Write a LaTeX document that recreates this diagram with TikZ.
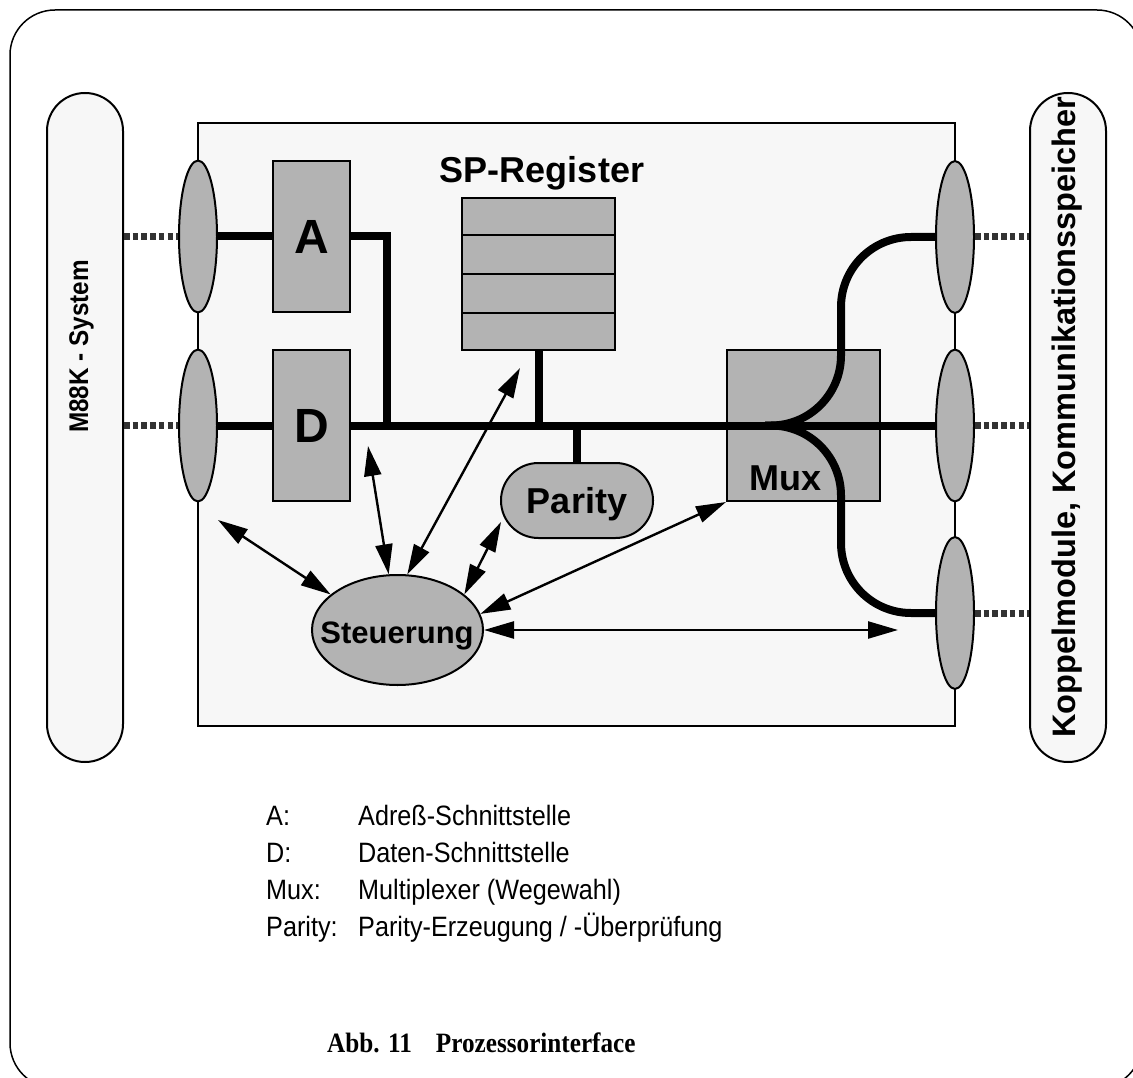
\documentclass[tikz,border=0pt]{standalone}
\usepackage{fontspec}
\setmainfont{Liberation Sans}
\newfontfamily\narrowsans[FakeStretch=0.9]{Liberation Sans}
\newfontfamily\capfont[FakeStretch=0.9]{Liberation Serif}
\usetikzlibrary{arrows.meta,shapes.geometric,calc}

\definecolor{panel}{HTML}{F7F7F7}
\definecolor{block}{HTML}{B3B3B3}
\definecolor{dots}{HTML}{333333}

\begin{document}
\begin{tikzpicture}[x=1pt,y=-1pt,
  frame/.style={draw=black,line width=1.5pt,rounded corners=45pt},
  column/.style={draw,line width=2pt,fill=panel,rounded corners=37.9pt,
    minimum width=76pt,minimum height=669pt,inner sep=0pt},
  board/.style={draw,line width=2pt,fill=panel,minimum width=757pt,
    minimum height=603pt,inner sep=0pt},
  port/.style={ellipse,draw,line width=2pt,fill=block,minimum width=38pt,
    minimum height=152pt,inner sep=0pt},
  unit/.style={draw,line width=2pt,fill=block,inner sep=0pt},
  bus/.style={line width=8pt},
  link/.style={draw=dots,line width=7pt,dash pattern=on 5.5pt off 3.2pt},
  ctrl/.style={line width=2.4pt,
    {Triangle[length=30pt,width=17pt]}-{Triangle[length=30pt,width=17pt]}},
  heavy/.style={font=\bfseries\fontsize{#1}{#1}\selectfont},
  legend/.style={anchor=base west,inner sep=0pt,font=\narrowsans\fontsize{28}{28}\selectfont},
]
\clip (0,0) rectangle (1133,1078);
\fill[white] (0,0) rectangle (1133,1078);
\draw[frame] (10,10) rectangle (1142,1088);

% outer systems
\node[column] (m88k) at (85,427.5) {};
\node[column] (kop) at (1068,427.5) {};
\node[font=\narrowsans\bfseries\fontsize{27}{27}\selectfont,rotate=90,anchor=base,inner sep=0pt]
  (m88klabel) at (88,346.5) {M88K - System};
\node[heavy=32.5,rotate=90,anchor=base,inner sep=0pt] (koplabel) at (1075,417)
  {Koppelmodule, Kommunikationsspeicher};

% interface board
\node[board] (board) at (576.5,424.5) {};

% ports
\node[port] (pl1) at (198,236.5) {};
\node[port] (pl2) at (198,425.5) {};
\node[port] (pr1) at (955,237) {};
\node[port] (pr2) at (955,425.5) {};
\node[port] (pr3) at (955,613) {};

\draw[link] (m88k.east |- pl1.west) -- (pl1.west);
\draw[link] (m88k.east |- pl2.west) -- (pl2.west);
\draw[link] (pr1.east) -- (pr1.east -| kop.west);
\draw[link] (pr2.east) -- (pr2.east -| kop.west);
\draw[link] (pr3.east) -- (pr3.east -| kop.west);

% functional units
\node[unit,heavy=48,minimum width=77pt,minimum height=151pt] (A) at (311.5,236.5) {A};
\node[unit,heavy=48,minimum width=77pt,minimum height=151pt] (D) at (311.5,425.5) {D};
\node[unit,minimum width=153pt,minimum height=152pt] (reg) at (538.5,274) {};
\foreach \f in {0.25,0.5,0.75}
  \draw[line width=2pt] ($(reg.north west)!\f!(reg.south west)$) -- ($(reg.north east)!\f!(reg.south east)$);
\node[heavy=36,anchor=base,inner sep=0pt] (reglabel) at (542,183) {SP-Register};
\node[unit,rounded corners=37.4pt,minimum width=152pt,minimum height=75pt,
  heavy=36,text depth=0pt] (parity) at (577,500.5) {Parity};
\node[unit,minimum width=153pt,minimum height=151pt] (mux) at (803.5,425.5) {};

% data paths
\coordinate (ajoin) at (387,425.5);
\coordinate (fork) at (841,425.5);
\draw[bus] (pl1.east) -- (A.west);
\draw[bus] (A.east) -| (ajoin);
\draw[bus] (pl2.east) -- (D.west);
\draw[bus] (D.east) -- (pr2.west);
\draw[bus] (reg.south) -- (reg.south |- pr2.west);
\draw[bus] (parity.north) -- (parity.north |- pr2.west);
\draw[bus,rounded corners=70pt] (pr1.west) -| (fork) -- ++(-76,0);
\draw[bus,rounded corners=70pt] (pr3.west) -| (fork) -- ++(-76,0);
\node[heavy=36,anchor=base west,inner sep=0pt] (muxlabel) at (749,490) {Mux};

% control unit
\node[ellipse,draw,line width=2pt,fill=block,minimum width=171pt,minimum height=110pt,
  inner sep=0pt] (steu) at (397.5,630) {};
\node[heavy=31,anchor=base,inner sep=0pt] (steulabel) at (397,643) {Steuerung};

\coordinate (c1) at (218,520);
\coordinate (c2) at (368,446);
\coordinate (c3) at (520,368);
\coordinate (c4) at (501,522);
\coordinate (c6) at (898,630);
\draw[ctrl] (c1) -- (steu.152);
\draw[ctrl] (c2) -- (steu.99);
\draw[ctrl] (c3) -- (steu.80);
\draw[ctrl] (c4) -- (steu.28);
\draw[ctrl] (mux.south west) -- (steu.11);
\draw[ctrl] (steu.east) -- (c6);

% legend
\node[legend] (k1) at (266,825) {A:};
\node[legend] (v1) at (358,825) {Adreß-Schnittstelle};
\node[legend] (k2) at (266,862) {D:};
\node[legend] (v2) at (358,862) {Daten-Schnittstelle};
\node[legend] (k3) at (266,899) {Mux:};
\node[legend] (v3) at (358,899) {Multiplexer (Wegewahl)};
\node[legend] (k4) at (266,936) {Parity:};
\node[legend] (v4) at (358,936) {Parity-Erzeugung / -Überprüfung};

\node[anchor=base west,inner sep=0pt,font=\capfont\bfseries\fontsize{28}{28}\selectfont]
  (caption) at (327,1052) {Abb. 11\hspace{24pt}Prozessorinterface};
\end{tikzpicture}
\end{document}
